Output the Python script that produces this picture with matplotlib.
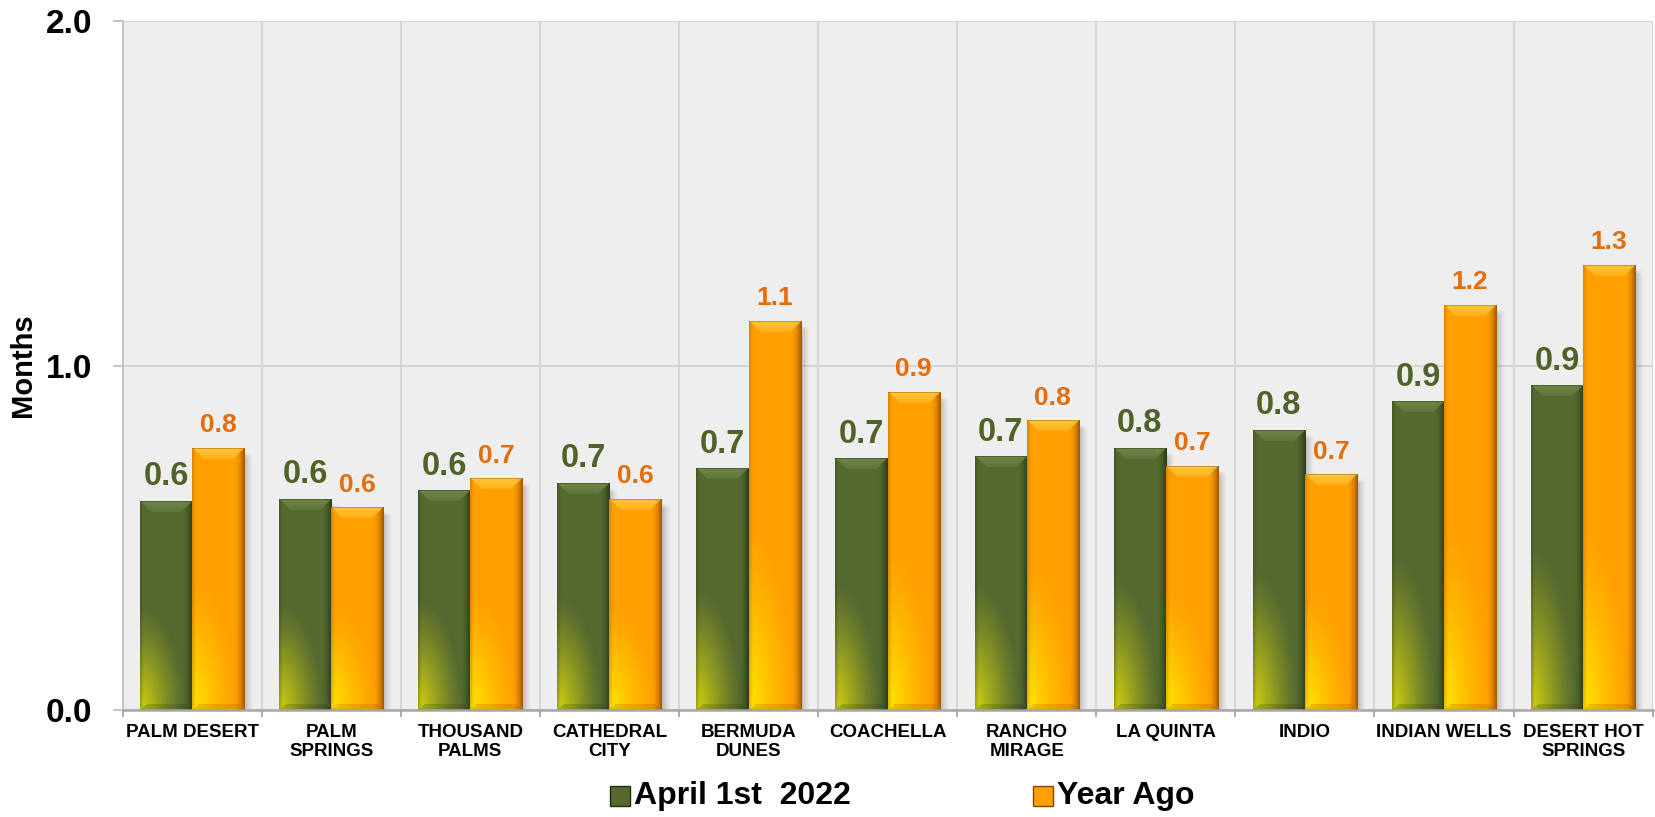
import matplotlib.pyplot as plt
import numpy as np
from matplotlib.patches import Rectangle

# Kategorien und Werte (Monate Angebot)
steden = ["PALM DESERT", "PALM\nSPRINGS", "THOUSAND\nPALMS", "CATHEDRAL\nCITY", "BERMUDA\nDUNES",
          "COACHELLA", "RANCHO\nMIRAGE", "LA QUINTA", "INDIO", "INDIAN WELLS", "DESERT HOT\nSPRINGS"]
april_2022 = [0.606, 0.612, 0.637, 0.658, 0.70, 0.729, 0.735, 0.76, 0.812, 0.895, 0.942]
jaar_geleden = [0.76, 0.588, 0.671, 0.612, 1.129, 0.923, 0.84, 0.708, 0.683, 1.175, 1.292]
reeks_namen = ["April 1st  2022", "Year Ago"]
y_ticks = [0.0, 1.0, 2.0]

FONT = "Liberation Sans"
GROEN = np.array([86, 106, 48]) / 255
GROEN_GLOED = np.array([212, 212, 15]) / 255
GROEN_DONKER = np.array([34, 46, 16]) / 255
GROEN_LICHT = np.array([120, 142, 80]) / 255
ORANJE = np.array([255, 160, 0]) / 255
ORANJE_GLOED = np.array([255, 230, 0]) / 255
ORANJE_DONKER = np.array([135, 70, 5]) / 255
ORANJE_LICHT = np.array([255, 212, 80]) / 255

W, H, DPI = 16.56, 8.17, 100
AX_POS = [0.074, 0.131, 0.924, 0.843]
PX_X = AX_POS[2] * W * DPI / 11.0   # pixels per category
PX_Y = AX_POS[3] * H * DPI / 2.0    # pixels per month


def balkBeeld(basis, gloed, donker, licht, w_px, h_px):
    """Maakt een RGB-beeld voor een balk met glans, schaduwrand en afgeschuinde top."""
    w = max(int(round(w_px)), 2)
    h = max(int(round(h_px)), 2)
    X, Y = np.meshgrid((np.arange(w) + 0.5) / w, np.arange(h) + 0.5)
    xp = X * w
    vb = h - Y  # pixels vanaf de onderkant
    img = np.ones((h, w, 3)) * basis

    # zachte gele gloed linksonder
    r = np.sqrt((X / 0.85) ** 2 + (vb / min(0.5 * h, 180)) ** 2)
    g = np.clip(1 - r, 0, 1) ** 1.2
    img = img * (1 - g[..., None]) + gloed * g[..., None]

    # donkere rechterrand
    d = np.clip((X - 0.8) / 0.2, 0, 1) ** 1.8 * 0.85
    img = img * (1 - d[..., None]) + donker * d[..., None]
    # lichte schaduw links
    lft = np.clip((4 - xp) / 4, 0, 1) * 0.3
    img = img * (1 - lft[..., None]) + donker * lft[..., None]

    # afgeschuinde bovenkant (trapezium dat naar beneden vervaagt)
    bev = min(11, h * 0.3)
    top = (Y < bev) & (xp > Y) & (xp < w - Y)
    f = (0.75 - 0.45 * Y / bev)[top]
    img[top] = img[top] * (1 - f[:, None]) + licht * f[:, None]
    img[Y < 1.5] = img[Y < 1.5] * 0.6 + donker * 0.4

    # onderkant iets donkerder
    bodem = (vb < 6) & (xp > vb) & (xp < w - vb)
    img[bodem] = img[bodem] * 0.8 + donker * 0.2
    return np.clip(img, 0, 1)


def schaduwBeeld(h_px, breedte=10):
    """Grijze schaduw rechts van een balk, vervagend naar buiten."""
    h = max(int(round(h_px)), 2)
    a = np.linspace(0.4, 0.0, breedte) ** 1.3
    img = np.zeros((h, breedte, 4))
    img[..., :3] = 0.25
    img[..., 3] = a[None, :]
    img[:6, :, 3] *= np.linspace(0, 1, 6)[:, None]
    return img, breedte


fig = plt.figure(figsize=(W, H), dpi=DPI)
ax = fig.add_axes(AX_POS)
ax.set_facecolor("#EEEEEE")

x = np.arange(len(steden))
bw = 0.375
balken_g = ax.bar(x - bw / 2, april_2022, bw, color=GROEN, zorder=3, linewidth=0)
balken_o = ax.bar(x + bw / 2, jaar_geleden, bw, color=ORANJE, zorder=5, linewidth=0)

for balken, kleuren, z in [(balken_g, (GROEN, GROEN_GLOED, GROEN_DONKER, GROEN_LICHT), 3),
                           (balken_o, (ORANJE, ORANJE_GLOED, ORANJE_DONKER, ORANJE_LICHT), 5)]:
    for p in balken:
        x0, w, h = p.get_x(), p.get_width(), p.get_height()
        beeld = balkBeeld(*kleuren, w * PX_X, h * PX_Y)
        ax.imshow(beeld, extent=(x0, x0 + w, 0, h), aspect="auto",
                  interpolation="bilinear", zorder=z + 0.5)
        sch, sb = schaduwBeeld(h * PX_Y - 4)
        ax.imshow(sch, extent=(x0 + w, x0 + w + sb / PX_X, 0, h - 4 / PX_Y), aspect="auto",
                  interpolation="bilinear", zorder=z - 0.5)

# waardelabels boven de balken
for p, v in zip(balken_g, april_2022):
    ax.annotate(f"{v:.1f}", (p.get_x() + p.get_width() / 2, v), xytext=(0, 11.5),
                textcoords="offset points", ha="center", va="baseline",
                fontsize=23.5, fontweight="bold", color="#4F6228", family=FONT, zorder=10)
for p, v in zip(balken_o, jaar_geleden):
    ax.annotate(f"{v:.1f}", (p.get_x() + p.get_width() / 2, v), xytext=(0, 11.5),
                textcoords="offset points", ha="center", va="baseline",
                fontsize=19, fontweight="bold", color="#E46C0A", family=FONT, zorder=10)

# rasterlijnen
for grens in np.arange(-0.5, len(steden), 1.0):
    ax.axvline(grens, color="#D4D4D4", lw=1.3, zorder=1)
for yv in y_ticks[1:]:
    ax.axhline(yv, color="#D4D4D4", lw=1.3, zorder=1)

ax.set_xlim(-0.5, len(steden) - 0.5)
ax.set_ylim(0, 2.0)

for s in ["top", "right"]:
    ax.spines[s].set_visible(False)
ax.spines["left"].set_color("#C0C0C0")
ax.spines["left"].set_linewidth(1.3)
ax.spines["bottom"].set_color("#A6A6A6")
ax.spines["bottom"].set_linewidth(1.8)
ax.spines["bottom"].set_zorder(8)

ax.set_xticks(x)
ax.set_xticklabels(steden, fontsize=13.5, fontweight="bold", family=FONT, linespacing=1.2)
ax.set_xticks(np.arange(-0.5, len(steden), 1.0), minor=True)
ax.tick_params(axis="x", which="major", length=0, pad=10)
ax.tick_params(axis="x", which="minor", length=5, width=1.3, color="#A6A6A6")

ax.set_yticks(y_ticks)
ax.set_yticklabels([f"{t:.1f}" for t in y_ticks], fontsize=24, fontweight="bold", family=FONT)
ax.tick_params(axis="y", length=7, width=1.3, color="#C0C0C0", pad=15)
ax.set_ylabel("Months", fontsize=21, fontweight="bold", family=FONT)
ax.yaxis.set_label_coords(-0.056, 0.5)

# legenda onderaan, met de hand geplaatst
legenda = [(610, GROEN, GROEN_DONKER, reeks_namen[0]),
           (1033, ORANJE, ORANJE_DONKER, reeks_namen[1])]
for lx, kleur, rand, naam in legenda:
    fig.patches.append(Rectangle((lx / (W * DPI), 0.0135), 20 / (W * DPI), 20 / (H * DPI),
                                 facecolor=kleur, edgecolor=rand, lw=1,
                                 transform=fig.transFigure, figure=fig))
    fig.text((lx + 24) / (W * DPI), 0.0255, naam, ha="left", va="center",
             fontsize=23, fontweight="bold", family=FONT)

fig.savefig("out.png", dpi=DPI)
